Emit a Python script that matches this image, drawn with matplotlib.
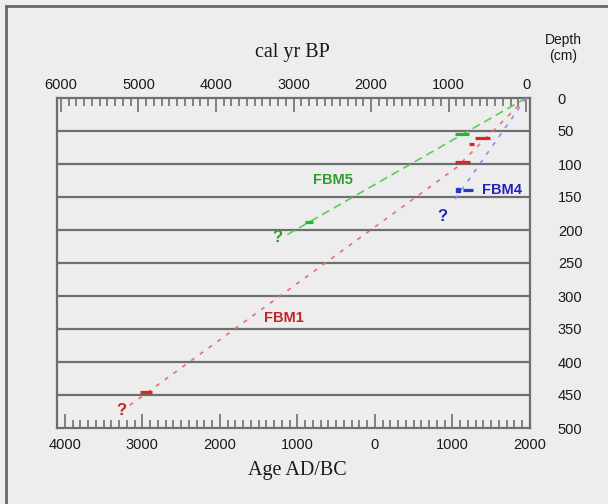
import matplotlib.pyplot as plt
from matplotlib.ticker import MultipleLocator, FixedLocator
from matplotlib.lines import Line2D

# age-depth models (age in years AD, depth in cm)
fbm5_age = [1950, -1160]
fbm5_depth = [0, 209]
fbm1_age = [1950, 1045, -3190]
fbm1_depth = [0, 106, 468]
fbm4_age = [1950, 1000]
fbm4_depth = [0, 159]

# dated levels: (age from, age to, depth)
fbm5_dates = [(1030, 1215, 55), (-905, -800, 188)]
fbm1_dates = [(1290, 1485, 61), (1215, 1280, 70), (1030, 1225, 97), (-3030, -2875, 445)]
fbm4_dates = [(1135, 1265, 139)]
fbm4_dot = (1070, 139)

# "?" at the base of each model and labels
q_pos = {"FBM1": (-3265, 473), "FBM5": (-1252, 212), "FBM4": (865, 180)}
lab_pos = {"FBM5": (-542, 124), "FBM1": (-1174, 333), "FBM4": (1639, 139)}

depth_ticks = list(range(0, 501, 50))
bp_ticks = [6000, 5000, 4000, 3000, 2000, 1000, 0]
ad_ticks = [-4000, -3000, -2000, -1000, 0, 1000, 2000]
ad_labels = ["4000", "3000", "2000", "1000", "0", "1000", "2000"]

bg = "#ededed"
frame = "#6e6e6e"
txt = "#1a1a1a"
sans = "Liberation Sans"
serif = "Liberation Serif"

fig = plt.figure(figsize=(6.08, 5.04), dpi=100, facecolor=bg)
ax = fig.add_axes([57 / 608, 1 - 428 / 504, 473 / 608, 330 / 504])
ax.set_facecolor(bg)
ax.set_xlim(-4100, 2000)
ax.set_ylim(500, 0)

for sp in ax.spines.values():
    sp.set_color(frame)
    sp.set_linewidth(1.6)

for d in depth_ticks[1:-1]:
    ax.axhline(d, color=frame, lw=1.6, zorder=1)

# bottom axis: AD/BC
ax.xaxis.set_major_locator(FixedLocator(ad_ticks))
ax.set_xticklabels(ad_labels, fontsize=10.5, family=sans, color=txt)
ax.xaxis.set_minor_locator(MultipleLocator(100))
ax.tick_params(axis="x", which="major", direction="in", length=10, width=1.2,
               color=frame, pad=7)
ax.tick_params(axis="x", which="minor", direction="in", length=6, width=1.2,
               color=frame)

# top axis: cal yr BP
top = ax.secondary_xaxis("top", functions=(lambda a: 1950 - a, lambda b: 1950 - b))
top.xaxis.set_major_locator(FixedLocator(bp_ticks))
top.set_xticklabels([str(t) for t in bp_ticks], fontsize=10.5, family=sans, color=txt)
top.xaxis.set_minor_locator(MultipleLocator(100))
top.tick_params(axis="x", which="major", direction="in", length=10, width=1.2,
                color=frame, pad=4)
top.tick_params(axis="x", which="minor", direction="in", length=6, width=1.2,
                color=frame)
top.spines["top"].set_visible(False)

# right axis labels: depth
ax.yaxis.tick_right()
ax.set_yticks(depth_ticks)
ax.set_yticklabels([str(d) for d in depth_ticks], fontsize=10.5, family=sans, color=txt)
ax.tick_params(axis="y", length=0, pad=20)

fig.text(563 / 608, 1 - 48 / 504, "Depth\n(cm)", ha="center", va="center",
         fontsize=10, family=sans, color=txt, linespacing=1.1)
fig.text(292 / 608, 1 - 53 / 504, "cal yr BP", ha="center", va="center",
         fontsize=14.5, family=serif, color=txt)
fig.text(297 / 608, 1 - 470 / 504, "Age AD/BC", ha="center", va="center",
         fontsize=14.5, family=serif, color=txt)

# models
ax.plot(fbm5_age, fbm5_depth, color="#5ccc5c", lw=1.2, dashes=(5, 3), zorder=3)
ax.plot(fbm1_age, fbm1_depth, color="#e87070", lw=1.2, dashes=(2.5, 4), zorder=3)
ax.plot(fbm4_age, fbm4_depth, color="#8c8cf0", lw=1.2, dashes=(2.5, 4), zorder=3)

for a0, a1, d in fbm5_dates:
    ax.plot([a0, a1], [d, d], color="#22bb22", lw=2.3, solid_capstyle="butt", zorder=4)
for a0, a1, d in fbm1_dates:
    ax.plot([a0, a1], [d, d], color="#e02424", lw=2.3, solid_capstyle="butt", zorder=4)
for a0, a1, d in fbm4_dates:
    ax.plot([a0, a1], [d, d], color="#2a3ac0", lw=2.3, solid_capstyle="butt", zorder=4)
ax.plot(*fbm4_dot, "s", color="#2a3ac0", ms=2.3, zorder=4)

colors = {"FBM5": "#2e9e2e", "FBM1": "#c42424", "FBM4": "#2424b4"}
for name, (a, d) in q_pos.items():
    ax.text(a, d, "?", color=colors[name], fontsize=12, fontweight="bold",
            family=sans, ha="center", va="center", zorder=5)
for name, (a, d) in lab_pos.items():
    ax.text(a, d, name, color=colors[name], fontsize=10.5, fontweight="bold",
            family=sans, ha="center", va="center", zorder=5)

# picture border
fig.add_artist(Line2D([6 / 608, 6 / 608], [0, 1 - 6 / 504], color="#666666", lw=2,
                      transform=fig.transFigure))
fig.add_artist(Line2D([6 / 608, 1], [1 - 6 / 504, 1 - 6 / 504], color="#666666", lw=2,
                      transform=fig.transFigure))

fig.savefig("out.png", dpi=100, facecolor=bg)
